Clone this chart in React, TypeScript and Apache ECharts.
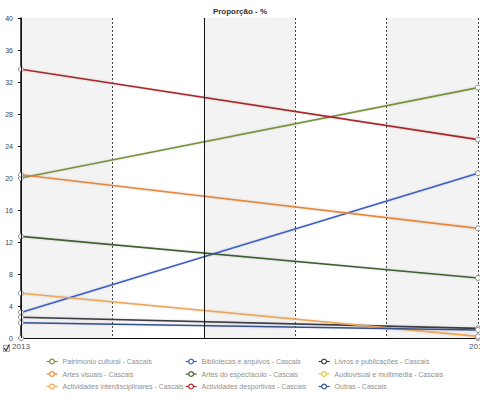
import React, { useEffect, useRef } from "react";
import * as echarts from "echarts";

const categories = ["2013", "2014"];
const seriesNames = [
  "Patrimonio cultural - Cascais",
  "Bibliotecas e arquivos - Cascais",
  "Livros e publicações - Cascais",
  "Artes visuais - Cascais",
  "Artes do espectaculo - Cascais",
  "Audiovisual e multimedia - Cascais",
  "Actividades interdisciplinares - Cascais",
  "Actividades desportivas - Cascais",
  "Outras - Cascais",
];
const patrimonio = [20.0, 31.3];
const bibliotecas = [3.2, 20.6];
const livros = [2.6, 1.2];
const artesVisuais = [20.4, 13.7];
const artesEspectaculo = [12.7, 7.5];
const audiovisual = [0, 0];
const interdisciplinares = [5.6, 0.2];
const desportivas = [33.6, 24.8];
const outras = [1.9, 1.0];
const seriesValues = [
  patrimonio,
  bibliotecas,
  livros,
  artesVisuais,
  artesEspectaculo,
  audiovisual,
  interdisciplinares,
  desportivas,
  outras,
];
const colors = [
  "#76923c",
  "#3a5cc4",
  "#3a3a44",
  "#e8873a",
  "#3f5f34",
  "#e2c544",
  "#f0a555",
  "#a8282a",
  "#34508a",
];
const yTicks = [0, 4, 8, 12, 16, 20, 24, 28, 32, 36, 40];
const legendColumns = [46, 185, 318];
const legendRows = [358, 370.5, 383];

export default function App() {
  const ref = useRef<HTMLDivElement>(null);
  useEffect(() => {
    if (!ref.current) return;
    const chart = echarts.init(ref.current, null, { renderer: "svg" });
    const legends = seriesNames.map((name, i) => ({
      left: legendColumns[i % 3],
      top: legendRows[Math.floor(i / 3)],
      padding: 0,
      itemWidth: 11,
      itemHeight: 6,
      itemGap: 0,
      textStyle: { fontSize: 7, color: "#8f8f8f", fontFamily: "Liberation Sans" },
      data: [
        {
          name,
          itemStyle: { color: "#fff", borderColor: colors[i], borderWidth: 1.2 },
          lineStyle: { color: colors[i], width: 1.2 },
        },
      ],
    }));
    chart.setOption({
      animation: false,
      title: {
        text: "Proporção - %",
        left: "center",
        top: 2,
        textStyle: { fontSize: 8, fontWeight: "bold", color: "#333", fontFamily: "Liberation Sans" },
      },
      color: colors,
      legend: legends,
      grid: { left: 21, right: 2, top: 18, bottom: 58, containLabel: false, outerBoundsMode: "none" },
      xAxis: [
        {
          type: "category",
          data: categories,
          boundaryGap: false,
          axisLine: { show: false },
          axisTick: { show: false },
          splitLine: { show: false },
          axisLabel: { fontSize: 8, color: "#555", margin: 4, fontFamily: "Liberation Sans" },
        },
        {
          type: "value",
          min: 0,
          max: 5,
          interval: 1,
          position: "bottom",
          axisLine: { show: false },
          axisTick: { show: false },
          axisLabel: { show: false },
          splitLine: { show: true, lineStyle: { color: "#444", type: [2, 2], width: 1 } },
          splitArea: { show: true, areaStyle: { color: ["#f3f3f3", "#ffffff"] } },
        },
      ],
      yAxis: {
        type: "value",
        min: 0,
        max: 40,
        interval: 4,
        offset: 6,
        axisLine: { show: true, lineStyle: { color: "#111", width: 1.5 } },
        axisTick: { show: true, length: 3, lineStyle: { color: "#111" } },
        axisLabel: {
          fontSize: 7,
          color: "#444",
          margin: 2,
          fontFamily: "Liberation Sans",
          formatter: (v: number) => (yTicks.includes(v) ? String(v) : ""),
        },
        splitLine: { show: true, lineStyle: { color: "#111", width: 1 } },
      },
      graphic: [
        {
          type: "rect",
          left: 3,
          top: 345,
          shape: { width: 6, height: 6 },
          style: { fill: "#eee", stroke: "#888", lineWidth: 0.8 },
        },
        {
          type: "polyline",
          shape: { points: [[4, 348], [6, 350.5], [9.5, 344.5]] },
          style: { stroke: "#333", lineWidth: 1.2, fill: "none" },
        },
      ],
      series: [
        {
          type: "line",
          xAxisIndex: 1,
          data: [],
          silent: true,
          markLine: {
            symbol: "none",
            silent: true,
            label: { show: false },
            lineStyle: { color: "#111", type: "solid", width: 1 },
            data: [{ xAxis: 0 }, { xAxis: 2 }],
          },
        },
        ...seriesNames.map((name, i) => ({
          name,
          type: "line",
          xAxisIndex: 0,
          data: seriesValues[i],
          symbol: "circle",
          symbolSize: 5,
          itemStyle: { color: "#fff", borderColor: "#888", borderWidth: 1 },
          lineStyle: { color: colors[i], width: 1.6, shadowColor: "rgba(0,0,0,0.15)", shadowBlur: 2 },
          emphasis: { disabled: true },
          z: 3,
        })),
      ],
    });
    return () => chart.dispose();
  }, []);
  return <div ref={ref} style={{ width: 480, height: 396, position: "absolute", left: 0, top: 0 }} />;
}
